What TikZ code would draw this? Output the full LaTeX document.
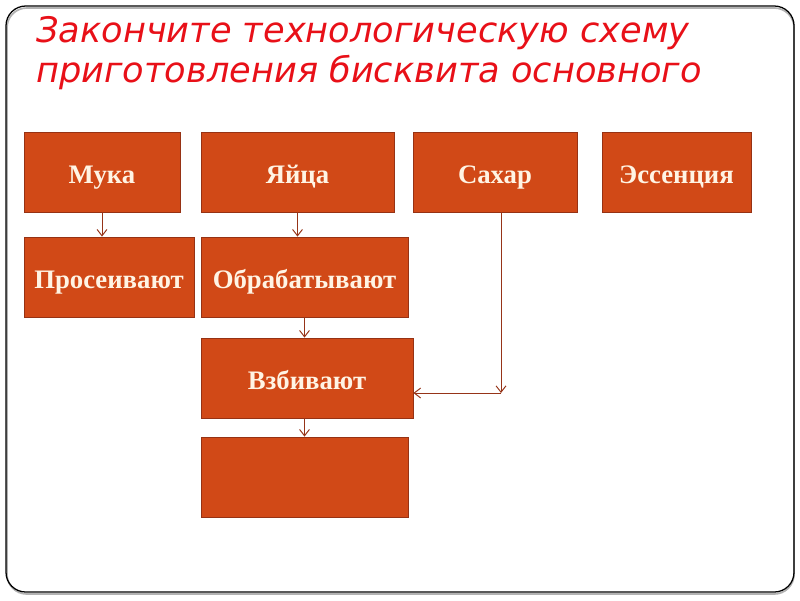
\documentclass[tikz,border=0pt]{standalone}
\usepackage{fontspec}
\setmainfont{Liberation Serif}
\newfontfamily\titlefont{DejaVu Sans}
\usetikzlibrary{positioning,calc,arrows.meta}
\definecolor{boxfill}{RGB}{209,73,23}
\definecolor{boxline}{RGB}{150,50,20}
\definecolor{arrline}{RGB}{150,52,24}
\definecolor{boxtext}{RGB}{255,244,228}
\definecolor{titlered}{RGB}{232,16,24}

\begin{document}
\begin{tikzpicture}[x=0.025cm,y=-0.025cm,
		box/.style={draw=boxline,fill=boxfill,line width=0.6pt,minimum height=2cm,text=boxtext,font=\fontsize{19}{22}\selectfont\bfseries,inner sep=0pt,text height=16.8pt,text depth=0pt},
		arr/.style={draw=arrline,line width=0.7pt,-{Straight Barb[length=4.5pt,width=7pt]}}]
		\useasboundingbox (0,0) rectangle (800,600);
		% frame
		\draw[gray!60,line width=1.2pt,rounded corners=14pt] (7,8) rectangle (794,594);
		\draw[black,line width=0.9pt,rounded corners=14pt] (6,6) rectangle (794,592);
		% title
		\node[anchor=north west,align=left,text=titlered,font=\titlefont\itshape\fontsize{25}{28.5}\selectfont,inner sep=0pt] (title) at (36,16) {Закончите технологическую схему\\приготовления бисквита основного};
		% first row
		\node[box,minimum width=3.9cm] (muka) at (102,172) {Мука};
		\node[box,minimum width=4.825cm] (yaica) at (297.5,172) {Яйца};
		\node[box,minimum width=4.1cm] (sahar) at (495,172) {Сахар};
		\node[box,minimum width=3.725cm] (essence) at (676.5,172) {Эссенция};
		% steps
		\node[box,minimum width=4.25cm] (prosei) at (109,277) {Просеивают};
		\node[box,minimum width=5.175cm] (obrab) at (304.5,277) {Обрабатывают};
		\node[box,minimum width=5.3cm] (vzbiv) at (307,378) {Взбивают};
		\node[box,minimum width=5.175cm] (empty) at (304.5,477) {};
		\coordinate (turn) at (501,393);
		% arrows
		\draw[arr] (muka.south) -- (muka.south |- prosei.north);
		\draw[arr] (yaica.south) -- (yaica.south |- obrab.north);
		\draw[arr] (obrab.south) -- (obrab.south |- vzbiv.north);
		\draw[arr] (empty.north |- vzbiv.south) -- (empty.north);
		\draw[arr] (sahar.south -| turn) -- (turn);
		\draw[arr] (turn) -- (vzbiv.east |- turn);
	\end{tikzpicture}
\end{document}
